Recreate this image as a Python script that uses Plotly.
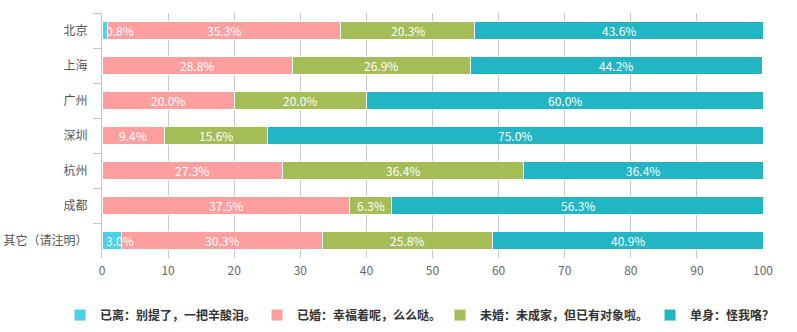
import plotly.graph_objects as go

categories = ["北京", "上海", "广州", "深圳", "杭州", "成都", "其它（请注明）"]
series_names = ["已离：别提了，一把辛酸泪。", "已婚：幸福着呢，么么哒。", "未婚：未成家，但已有对象啦。", "单身：怪我咯？"]
divorced = [0.8, 0, 0, 0, 0, 0, 3.0]
married = [35.3, 28.8, 20.0, 9.4, 27.3, 37.5, 30.3]
unmarried = [20.3, 26.9, 20.0, 15.6, 36.4, 6.3, 25.8]
single = [43.6, 44.2, 60.0, 75.0, 36.4, 56.3, 40.9]
x_ticks = [0, 10, 20, 30, 40, 50, 60, 70, 80, 90, 100]

colors = ["#4BCFEA", "#FF9E9E", "#A5BD57", "#22B5C3"]
legend_widths = [152, 138, 165, 90]
series = [divorced, married, unmarried, single]

fig = go.Figure()
for name, vals, col, lw in zip(series_names, series, colors, legend_widths):
    fig.add_trace(go.Bar(
        y=categories, x=vals, name=name, orientation="h",
        marker=dict(color=col, line=dict(color="white", width=1)),
        hoverinfo="x+name", legendwidth=lw,
    ))

annotations = []
for i, cat in enumerate(categories):
    start = 0.0
    for vals in series:
        v = vals[i]
        if v > 0:
            if v < 5:
                annotations.append(dict(x=start, y=cat, xref="x", yref="y", text=f"{v:.1f}%",
                                        showarrow=False, xanchor="left", xshift=2,
                                        font=dict(color="white", size=12)))
            else:
                annotations.append(dict(x=start + v / 2, y=cat, xref="x", yref="y", text=f"{v:.1f}%",
                                        showarrow=False, xanchor="center",
                                        font=dict(color="white", size=12)))
        start += v

fig.update_layout(
    barmode="stack",
    bargap=0.5,
    width=797, height=332,
    margin=dict(l=102, r=34, t=13, b=74, autoexpand=False),
    paper_bgcolor="white", plot_bgcolor="white",
    font=dict(family="Noto Sans CJK SC, sans-serif", size=12, color="#666"),
    annotations=annotations,
    legend=dict(orientation="h", x=-0.0635, xanchor="left", y=-0.233, yanchor="middle",
                font=dict(size=12, color="#333", weight="bold"),
                itemclick=False, traceorder="normal", itemwidth=30),
    showlegend=True,
)
fig.update_xaxes(range=[0, 100], tickvals=x_ticks, showgrid=True, gridcolor="#C8C8C8",
                 gridwidth=1, zeroline=False, showline=False, ticks="",
                 tickfont=dict(color="#666", size=12), fixedrange=True,
                 ticklabelstandoff=4)
fig.update_yaxes(autorange="reversed", showline=True, linecolor="#BCC8D6", linewidth=1,
                 ticks="outside", ticklen=8, tickcolor="#BCC8D6", tickson="boundaries",
                 showgrid=False, tickfont=dict(color="#555", size=12), fixedrange=True,
                 ticklabelstandoff=11)

fig.write_html("out.html")
